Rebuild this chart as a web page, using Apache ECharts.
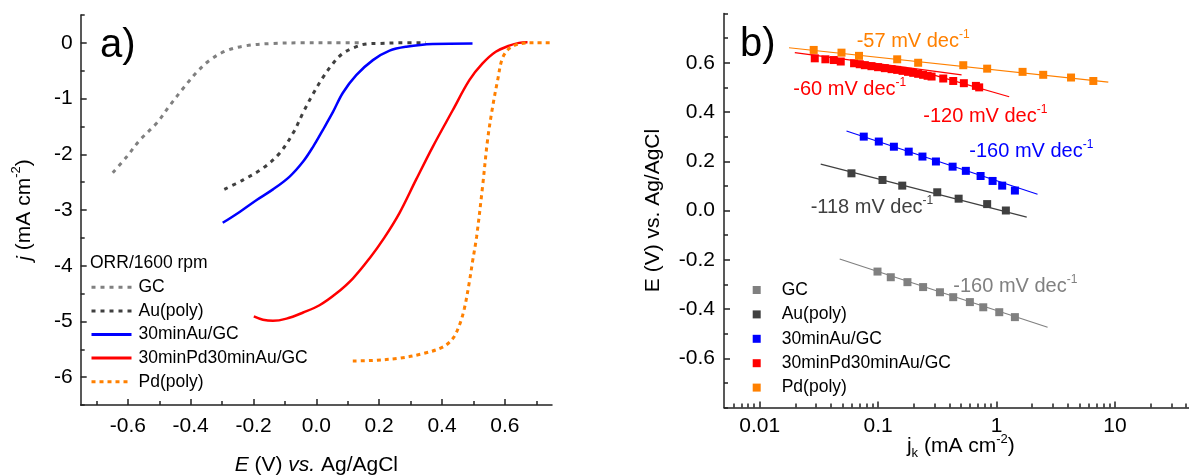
<!DOCTYPE html>
<html><head><meta charset="utf-8">
<script src="https://cdn.jsdelivr.net/npm/echarts@6/dist/echarts.min.js"></script>
<style>html,body{margin:0;padding:0;background:#fff}#c{width:1189px;height:475px}</style>
</head><body><div id="c"></div>
<script>
// ---------- Panel a) : ORR polarisation curves (E in V, j in mA cm-2) ----------
const gcE  = [-0.648,-0.603,-0.561,-0.508,-0.466,-0.423,-0.381,-0.339,-0.286,-0.222,-0.138,-0.05,0.05,0.15];
const gcJ  = [-2.33,-2.04,-1.74,-1.44,-1.12,-0.81,-0.53,-0.31,-0.14,-0.05,-0.01,0,0,0];
const auE  = [-0.293,-0.233,-0.170,-0.117,-0.074,-0.042,-0.011,0.021,0.053,0.084,0.122,0.159,0.201,0.27,0.349];
const auJ  = [-2.63,-2.46,-2.25,-1.98,-1.62,-1.25,-0.92,-0.62,-0.37,-0.19,-0.08,-0.02,-0.01,0,0];
const auGcE = [-0.298,-0.243,-0.190,-0.138,-0.085,-0.042,-0.011,0.021,0.053,0.084,0.127,0.180,0.233,0.286,0.370,0.497];
const auGcJ = [-3.23,-3.03,-2.82,-2.63,-2.40,-2.13,-1.87,-1.56,-1.24,-0.90,-0.58,-0.31,-0.14,-0.07,-0.02,-0.01];
const pdAuE = [-0.199,-0.170,-0.138,-0.095,-0.042,0.010,0.063,0.116,0.169,0.216,0.264,0.317,0.370,0.434,0.487,0.529,0.571,0.614,0.645,0.672];
const pdAuJ = [-4.91,-4.97,-4.99,-4.95,-4.84,-4.71,-4.50,-4.23,-3.87,-3.50,-3.06,-2.46,-1.87,-1.21,-0.67,-0.37,-0.16,-0.05,0,0.01];
const pdE  = [0.116,0.180,0.264,0.338,0.402,0.434,0.455,0.471,0.487,0.497,0.510,0.529,0.545,0.561,0.577,0.592,0.614,0.645,0.688,0.75];
const pdJ  = [-5.71,-5.70,-5.66,-5.58,-5.46,-5.31,-5.07,-4.77,-4.29,-3.93,-3.48,-2.58,-1.74,-1.15,-0.67,-0.28,-0.10,-0.02,0,0];

const aXMajor = [-0.6,-0.4,-0.2,0.0,0.2,0.4,0.6];
const aXMinor = [-0.7,-0.5,-0.3,-0.1,0.1,0.3,0.5,0.7];
const aYMajor = [-6,-5,-4,-3,-2,-1,0];
const aYMinor = [-6.5,-5.5,-4.5,-3.5,-2.5,-1.5,-0.5,0.5];

// ---------- Panel b) : Tafel plots (jk in mA cm-2, E in V) ----------
const tGcJ = [0.0989,0.128,0.177,0.240,0.333,0.431,0.596,0.773,1.055,1.43];
const tGcE = [-0.248,-0.271,-0.291,-0.311,-0.332,-0.352,-0.372,-0.393,-0.413,-0.433];
const tAuJ = [0.0596,0.109,0.160,0.316,0.479,0.834,1.20];
const tAuE = [0.151,0.124,0.101,0.074,0.048,0.026,0.0];
const tAuGcJ = [0.0757,0.1014,0.136,0.1815,0.237,0.308,0.426,0.551,0.734,0.927,1.117,1.43];
const tAuGcE = [0.300,0.280,0.259,0.239,0.219,0.199,0.178,0.161,0.140,0.120,0.101,0.081];
const tPdAuJ = [0.0292,0.0359,0.0423,0.0484,0.0627,0.0700,0.0773,0.0879,0.100,0.114,0.130,0.145,0.161,0.179,0.198,0.218,0.240,0.262,0.283,0.355,0.431,0.530,0.670,0.714];
const tPdAuE = [0.618,0.614,0.611,0.605,0.598,0.594,0.590,0.586,0.582,0.578,0.574,0.571,0.567,0.563,0.559,0.555,0.551,0.547,0.544,0.536,0.526,0.517,0.506,0.500];
const tPdJ = [0.0286,0.0491,0.069,0.145,0.218,0.524,0.834,1.66,2.48,4.26,6.57];
const tPdE = [0.652,0.641,0.628,0.614,0.600,0.590,0.576,0.563,0.551,0.540,0.526];
// fitted Tafel lines: [jk start, jk end], [E start, E end]
const fitGcJ = [0.0474,2.70],  fitGcE = [-0.197,-0.474];
const fitAuJ = [0.0328,1.80],  fitAuE = [0.188,-0.027];
const fitAuGcJ = [0.0541,2.22], fitAuGcE = [0.323,0.066];
const fitPdAu60J = [0.0198,0.507], fitPdAu60E = [0.641,0.551];
const fitPdAu120J = [0.292,1.28], fitPdAu120E = [0.551,0.462];
const fitPdJ = [0.0177,8.79], fitPdE = [0.661,0.521];

const bXMajor = [0.01,0.1,1,10];
const bXMinor = [0.006,0.007,0.008,0.009,0.02,0.03,0.04,0.05,0.06,0.07,0.08,0.09,0.2,0.3,0.4,0.5,0.6,0.7,0.8,0.9,2,3,4,5,6,7,8,9,20,30,40,50];
const bYMajor = [-0.6,-0.4,-0.2,0.0,0.2,0.4,0.6];
const bYMinor = [-0.8,-0.7,-0.5,-0.3,-0.1,0.1,0.3,0.5,0.7,0.8];

const names = ['GC','Au(poly)','30minAu/GC','30minPd30minAu/GC','Pd(poly)'];
const colors = ['#808080','#404040','#0000ff','#ff0000','#ff8000'];

const FONT = 'Arial, "Liberation Sans", sans-serif';
const AX = '#222';
const zip = (a,b) => a.map((v,i)=>[v,b[i]]);

function axisBase(extra){
  return Object.assign({
    axisLine:{show:true,onZero:false,lineStyle:{color:AX,width:1.5}},
    splitLine:{show:false},
    axisLabel:{show:false},
    axisTick:{show:false},
    nameMoveOverlap:false
  }, extra);
}
function majorTicks(vals){ return {show:true,inside:true,length:6,lineStyle:{color:AX,width:1.5},customValues:vals}; }
function minorTicks(vals){ return {show:true,inside:true,length:4,lineStyle:{color:AX,width:1.5},customValues:vals}; }
const lblStyle = {fontFamily:FONT,fontSize:21,color:'#000'};

const option = {
  animation:false,
  backgroundColor:'#fff',
  textStyle:{fontFamily:FONT},
  grid:[
    {left:80.7, top:15, width:471.3, height:390, containLabel:false, outerBoundsMode:'none'},
    {left:724, top:13.5, width:473.7, height:394, containLabel:false, outerBoundsMode:'none'}
  ],
  xAxis:[
    axisBase({gridIndex:0,type:'value',min:-0.75,max:0.75,position:'bottom',
      axisTick:majorTicks(aXMajor),
      axisLabel:Object.assign({show:true,margin:11,customValues:aXMajor,formatter:v=>v.toFixed(1)},lblStyle),
      name:'{i|E} (V) {i|vs.} Ag/AgCl', nameLocation:'middle', nameGap:50,
      nameTextStyle:{fontFamily:FONT,fontSize:21,color:'#000',rich:{i:{fontStyle:'italic',fontFamily:FONT,fontSize:21,color:'#000'}}}}),
    axisBase({gridIndex:0,type:'value',min:-0.75,max:0.75,position:'bottom',axisLine:{show:false,onZero:false},
      axisTick:minorTicks(aXMinor)}),
    axisBase({gridIndex:1,type:'log',logBase:10,min:0.005,max:50,position:'bottom',
      axisTick:majorTicks(bXMajor),
      axisLabel:Object.assign({show:true,margin:8,customValues:bXMajor,formatter:v=>String(+(+v).toPrecision(3))},lblStyle),
      name:'j{sub|k} (mA cm{sup|-2})', nameLocation:'middle', nameGap:25,
      nameTextStyle:{fontFamily:FONT,fontSize:21,color:'#000',
        rich:{sub:{fontSize:13,fontFamily:FONT,color:'#000',verticalAlign:'bottom',lineHeight:27},
              sup:{fontSize:13,fontFamily:FONT,color:'#000',verticalAlign:'top',lineHeight:27}}}}),
    axisBase({gridIndex:1,type:'log',logBase:10,min:0.005,max:50,position:'bottom',axisLine:{show:false,onZero:false},
      axisTick:minorTicks(bXMinor)})
  ],
  yAxis:[
    axisBase({gridIndex:0,type:'value',min:-6.5,max:0.5,position:'left',
      axisTick:majorTicks(aYMajor),
      axisLabel:Object.assign({show:true,margin:8,customValues:aYMajor,formatter:v=>String(Math.round(v))},lblStyle),
      name:'{i|j} (mA cm{sup|-2})', nameLocation:'middle', nameGap:41, nameRotate:90,
      nameTextStyle:{fontFamily:FONT,fontSize:21,color:'#000',
        rich:{i:{fontStyle:'italic',fontFamily:FONT,fontSize:21,color:'#000'},
              sup:{fontSize:13,fontFamily:FONT,color:'#000',verticalAlign:'top',lineHeight:30}}}}),
    axisBase({gridIndex:0,type:'value',min:-6.5,max:0.5,position:'left',axisLine:{show:false,onZero:false},
      axisTick:minorTicks(aYMinor)}),
    axisBase({gridIndex:1,type:'value',min:-0.8,max:0.8,position:'left',
      axisTick:majorTicks(bYMajor),
      axisLabel:Object.assign({show:true,margin:9,customValues:bYMajor,formatter:v=>v.toFixed(1)},lblStyle),
      name:'E (V) vs. Ag/AgCl', nameLocation:'middle', nameGap:60, nameRotate:90,
      nameTextStyle:{fontFamily:FONT,fontSize:21,color:'#000'}}),
    axisBase({gridIndex:1,type:'value',min:-0.8,max:0.8,position:'left',axisLine:{show:false,onZero:false},
      axisTick:minorTicks(bYMinor)})
  ],
  legend:[
    {left:90, top:275.5, orient:'vertical', padding:0, itemGap:0, itemWidth:40, itemHeight:14,
     selectedMode:false, data:names, itemStyle:{opacity:0}, lineStyle:{width:3},
     textStyle:{fontFamily:FONT,fontSize:17.5,color:'#000',lineHeight:23.6,padding:[0,0,0,2]}},
    {left:752.7, top:277.8, orient:'vertical', padding:0, itemGap:0, itemWidth:8, itemHeight:8, icon:'rect',
     selectedMode:false, data:names.map(n=>n+' (b)'), formatter:n=>n.replace(' (b)',''),
     textStyle:{fontFamily:FONT,fontSize:17.5,color:'#000',lineHeight:24.4,padding:[0,0,0,16]}}
  ],
  graphic:[
    {type:'text', left:100, top:26, style:{text:'a)', font:'40px '+FONT, fill:'#000'}},
    {type:'text', left:740, top:25, style:{text:'b)', font:'40px '+FONT, fill:'#000'}},
    {type:'text', left:90, top:254, style:{text:'ORR/1600 rpm', font:'17.5px '+FONT, fill:'#000'}}
  ],
  series:[]
};

// panel a lines
const aSets = [[gcE,gcJ],[auE,auJ],[auGcE,auGcJ],[pdAuE,pdAuJ],[pdE,pdJ]];
const aDash = [[4,5],[4,5],'solid','solid',[4,4]];
const aWidth = [3,3,2.5,2.5,3];
aSets.forEach((s,i)=>{
  option.series.push({type:'line',name:names[i],xAxisIndex:0,yAxisIndex:0,data:zip(s[0],s[1]),
    symbol:'none',smooth:0.35,
    lineStyle:{color:colors[i],width:aWidth[i],type:aDash[i],cap:'butt'},itemStyle:{color:colors[i]}});
});
// panel b fits
const fits = [[fitGcJ,fitGcE,0],[fitAuJ,fitAuE,1],[fitAuGcJ,fitAuGcE,2],[fitPdAu60J,fitPdAu60E,3],[fitPdAu120J,fitPdAu120E,3],[fitPdJ,fitPdE,4]];
fits.forEach(f=>{
  option.series.push({type:'line',name:'fit'+f[2],xAxisIndex:2,yAxisIndex:2,data:zip(f[0],f[1]),symbol:'none',
    lineStyle:{color:colors[f[2]],width:1.2},z:2});
});
// panel b points
const bSets = [[tGcJ,tGcE],[tAuJ,tAuE],[tAuGcJ,tAuGcE],[tPdAuJ,tPdAuE],[tPdJ,tPdE]];
bSets.forEach((s,i)=>{
  option.series.push({type:'scatter',name:names[i]+' (b)',xAxisIndex:2,yAxisIndex:2,data:zip(s[0],s[1]),
    symbol:'rect',symbolSize:8,itemStyle:{color:colors[i],opacity:1},z:3});
});

// Tafel slope annotations
const notes = [
  ['-57 mV dec', 856.7, 41.7, colors[4]],
  ['-60 mV dec', 793.3, 89.3, colors[3]],
  ['-120 mV dec', 923.3, 116.7, colors[3]],
  ['-160 mV dec', 969.3, 151.7, colors[2]],
  ['-118 mV dec', 810.7, 207.3, colors[1]],
  ['-160 mV dec', 953.3, 286.7, colors[0]]
];
notes.forEach(n=>{
  option.graphic.push({type:'text', x:n[1], y:n[2], style:{
    text:n[0]+'{s|-1}', fill:n[3], font:'20px '+FONT, verticalAlign:'middle', align:'left',
    rich:{s:{fontSize:12, fontFamily:FONT, fill:n[3], color:n[3], verticalAlign:'top', lineHeight:26}}
  }});
});

const chart = echarts.init(document.getElementById('c'), null, {renderer:'canvas'});
chart.setOption(option);
</script>
</body></html>
